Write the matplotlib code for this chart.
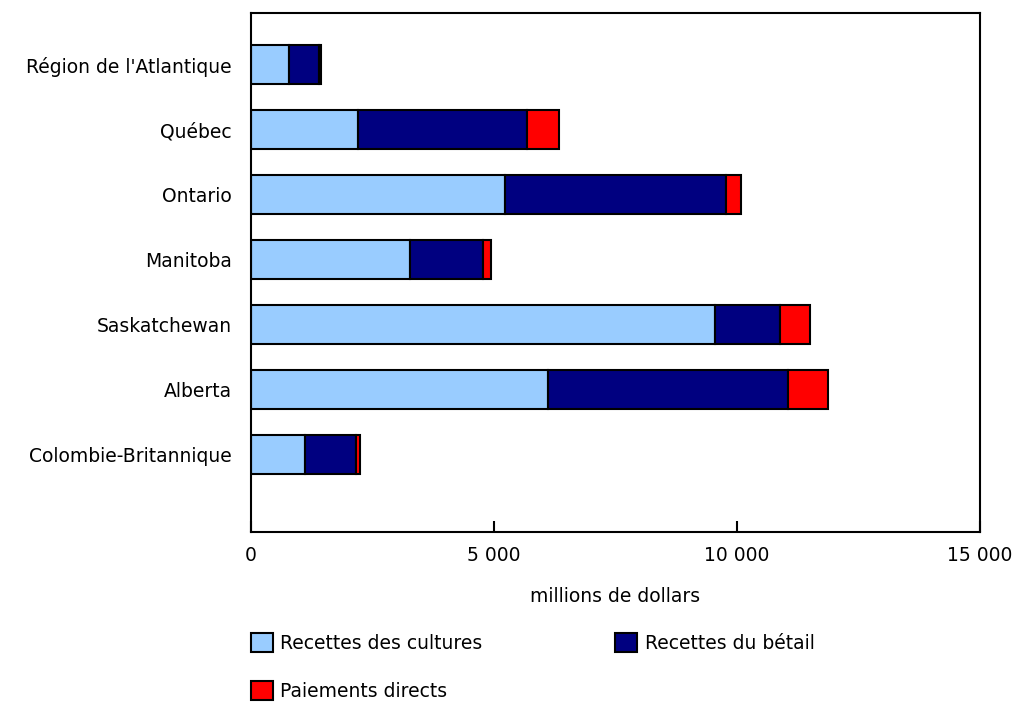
import numpy as np
import matplotlib
matplotlib.use("Agg")
import matplotlib.pyplot as plt
from matplotlib.patches import Patch

# Data (millions de dollars)
regions = ["Région de l'Atlantique", "Québec", "Ontario", "Manitoba",
           "Saskatchewan", "Alberta", "Colombie-Britannique"]
cultures = [782, 2195, 5233, 3265, 9555, 6111, 1119]
betail = [611, 3478, 4534, 1509, 1330, 4932, 1041]
paiements = [47, 659, 315, 172, 611, 829, 91]

series_names = ["Recettes des cultures", "Recettes du bétail", "Paiements directs"]
colors = ["#99CCFF", "#000080", "#FF0000"]

xticks = [0, 5000, 10000, 15000]
xtick_labels = ["0", "5 000", "10 000", "15 000"]

plt.rcParams['font.family'] = ['DejaVu Sans']
plt.rcParams['font.size'] = 13.5

fig = plt.figure(figsize=(10.18, 7.02), dpi=100)
ax = fig.add_axes([0.2466, 0.242, 0.9627 - 0.2466, 0.982 - 0.242])

y = np.arange(len(regions))
left = np.zeros(len(regions))
for vals, col in zip([cultures, betail, paiements], colors):
    ax.barh(y, vals, left=left, height=0.6, color=col, edgecolor='black', linewidth=1.5)
    left = left + np.array(vals)

ax.set_ylim(7.2, -0.8)
ax.set_xlim(0, 15000)
ax.set_yticks(y)
ax.set_yticklabels(regions)
ax.set_xticks(xticks)
ax.set_xticklabels(xtick_labels)
ax.tick_params(axis='y', length=0, pad=14)
ax.tick_params(axis='x', direction='in', length=8, width=1.5, pad=10, top=False)
ax.set_xlabel("millions de dollars", labelpad=16)

for s in ax.spines.values():
    s.set_linewidth(1.5)

# order so the legend fills row-wise: cultures, bétail / paiements
order = [0, 2, 1]
handles = [Patch(facecolor=colors[i], edgecolor='black', linewidth=1.5) for i in order]
labels = [series_names[i] for i in order]
fig.legend(handles, labels, loc='upper left', bbox_to_anchor=(0.2466, 0.098),
           ncol=2, frameon=False, handlelength=1.15, handleheight=1.15,
           handletextpad=0.4, columnspacing=7.1, labelspacing=1.5,
           borderaxespad=0, borderpad=0)

fig.savefig("out.png", dpi=100)
